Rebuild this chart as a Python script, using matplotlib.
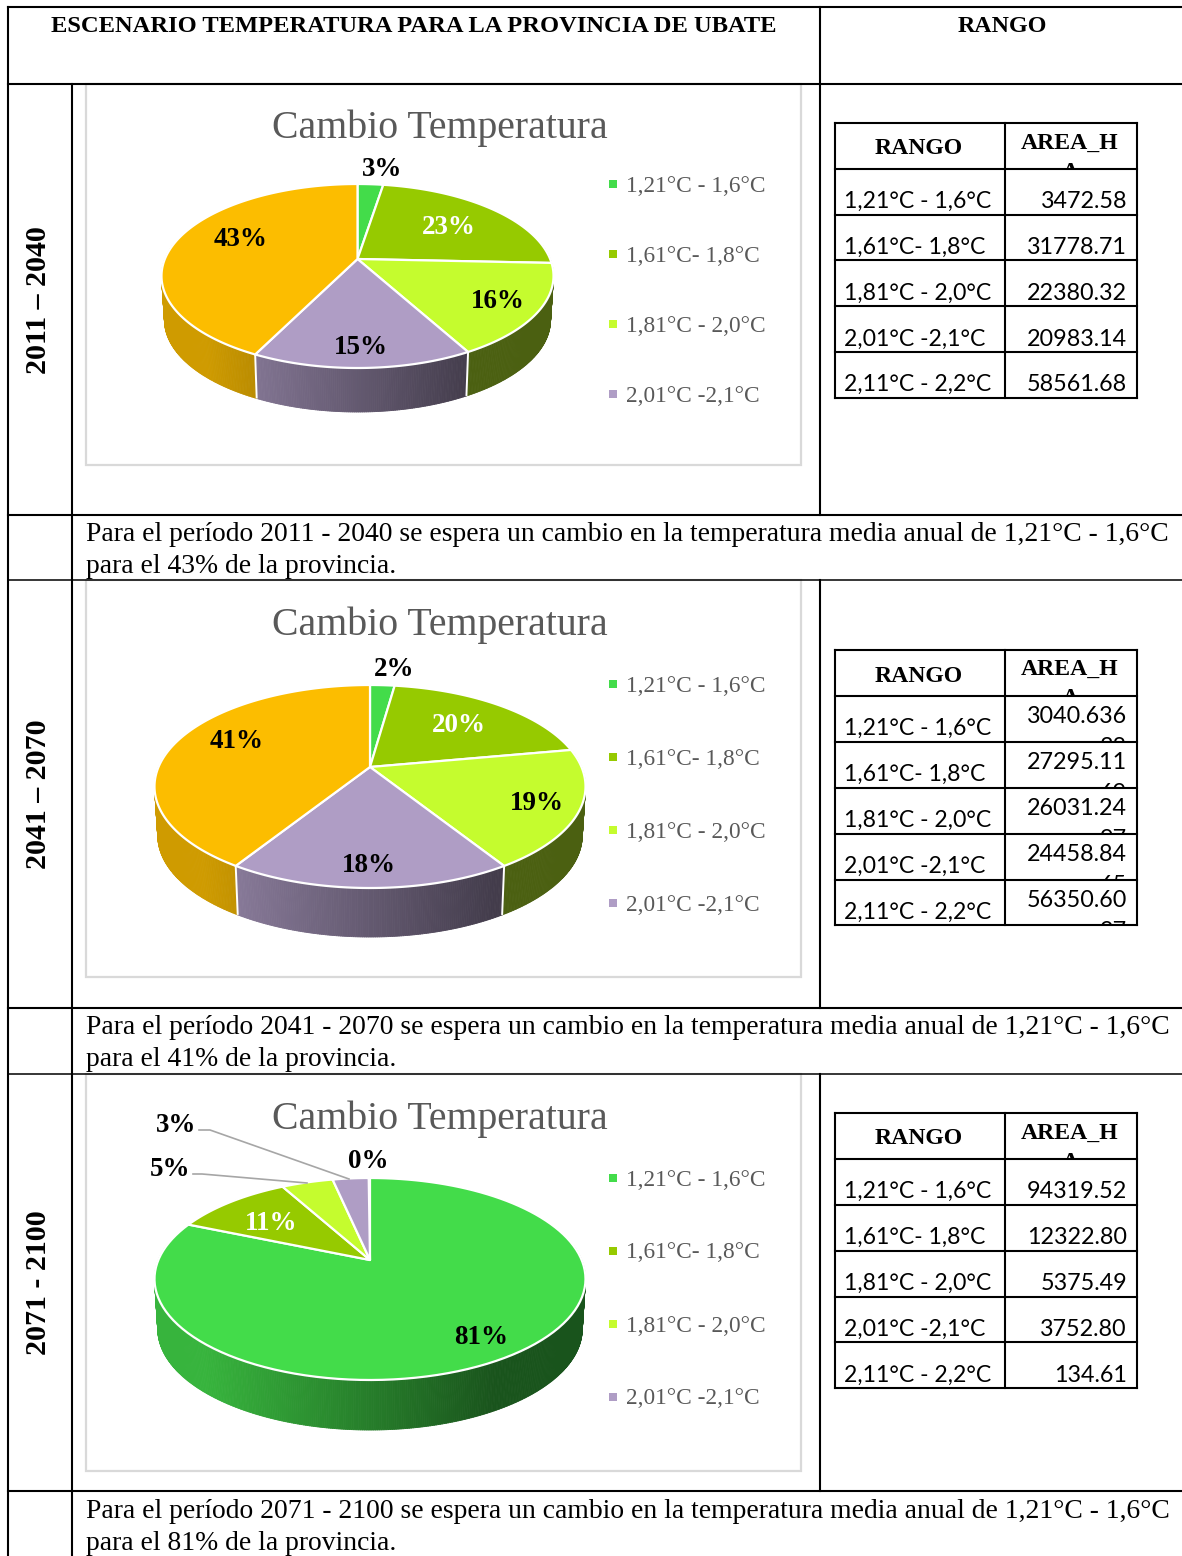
#!/usr/bin/env python3
"""Temperature change scenarios for the Ubate province: table layout with three 3D pies."""

import numpy as np
import matplotlib
matplotlib.use("Agg")
import matplotlib.pyplot as plt
from matplotlib.collections import PolyCollection
from matplotlib.patches import Polygon, Rectangle

RANGOS = ["1,21°C - 1,6°C", "1,61°C- 1,8°C", "1,81°C - 2,0°C", "2,01°C -2,1°C", "2,11°C - 2,2°C"]
AREA_2011 = ["3472.58", "31778.71", "22380.32", "20983.14", "58561.68"]
AREA_2041 = ["3040.636", "27295.11", "26031.24", "24458.84", "56350.60"]
AREA_2071 = ["94319.52", "12322.80", "5375.49", "3752.80", "134.61"]
AREA_2041_CUT = ["38", "69", "97", "65", "97"]
PERIODOS = ["2011 – 2040", "2041 – 2070", "2071 - 2100"]
PERIODOS_TXT = ["2011 - 2040", "2041 - 2070", "2071 - 2100"]
DOMINANTE = [43, 41, 81]
COLORS = ["#43DC4A", "#96CA00", "#C5FC2E", "#AF9DC5", "#FCBD00"]

SERIF = "Liberation Serif"
SANS = "Lato"
GREY = "#595959"

# layout in pixels: cx, half width, top, vertex, front, wall depth
PIES = [(357.5, 196, 184, 259, 368, 44), (370, 215.5, 685, 767, 888, 49), (370, 215.5, 1178, 1260, 1380, 50)]
FRAMES = [(86, 84, 801, 465), (86, 580, 801, 977), (86, 1074, 801, 1471)]
TITLE_Y = [126, 623, 1117]
LEGEND_Y = [[184, 254, 324, 394], [684, 757, 830, 903], [1178, 1251, 1324, 1397]]
LABEL_XY = [
    [(382, 167), (449, 225), (498, 299), (361, 345), (241, 237)],
    [(394, 667), (459, 723), (537, 801), (369, 863), (237, 739)],
    [(481, 1335), (271, 1221), (170, 1167), (176, 1123), (368, 1159)],
]
LABEL_COLOR = ["black", "white", "black", "black", "black"]
TABLE_Y = [
    [123, 169, 215, 260, 306, 352, 398],
    [650, 696, 742, 788, 834, 880, 925],
    [1113, 1159, 1205, 1251, 1297, 1342, 1388],
]
ROW_LABEL_Y = [[199, 245, 291, 337, 382], [726, 772, 818, 864, 910], [1189, 1235, 1281, 1327, 1373]]
ROW_VALUE_Y = [[199, 245, 291, 337, 382], [714, 760, 806, 852, 898], [1189, 1235, 1281, 1327, 1373]]
HEAD_Y = [(146, 141), (674, 667), (1136, 1131)]
PERIOD_Y = [300, 794, 1283]
TEXT_Y = [(532, 564), (1026, 1058), (1510, 1542)]
LEADERS = [[(193, 1174), (202, 1174), (307, 1183)], [(199, 1130), (210, 1130), (349, 1179)]]


def px(size):
  return size * 0.72


def put(ax, x, y, text, size, **kwargs):
  kwargs.setdefault("ha", "center")
  kwargs.setdefault("family", SERIF)
  # va center sits about 2 px above the glyph middle for these fonts
  return ax.text(x, y + 2, text, va="center", fontsize=px(size), **kwargs)


def projector(cx, half_w, top, vertex, front):
  ratio = (front - vertex) / (vertex - top)
  k = (ratio - 1) / (ratio + 1)
  b = (vertex - top) * (1 + k)
  a = half_w * np.sqrt(1 - k * k)

  def rim(phi, scale=1.0, drop=0.0):
    u, v = np.sin(phi), -np.cos(phi)
    d = 1 - k * v
    return cx + scale * a * u / d, vertex + drop + b * v / d

  return rim


def shade(color, n):
  rgb = np.array(matplotlib.colors.to_rgb(color))
  return tuple(rgb * np.clip(0.57 - 0.324 * n, 0.38, 0.82))


def draw_pie(ax, values, geo):
  cx, half_w, top, vertex, front, depth = geo
  rim = projector(cx, half_w, top, vertex, front)
  edges = np.concatenate([[0], np.cumsum(values)]) / np.sum(values) * 2 * np.pi

  # side wall first, the top surface then hides what lies behind it
  for i, color in enumerate(COLORS):
    start, end = max(edges[i], np.pi * 0.45), min(edges[i + 1], np.pi * 1.55)
    if end <= start:
      continue
    phi = np.linspace(start, end, max(int((end - start) * 120), 2))
    x0, y0 = rim(phi)
    x1, y1 = rim(phi, 0.985, depth)
    quads = [
        [(x0[j], y0[j]), (x0[j + 1], y0[j + 1]), (x1[j + 1], y1[j + 1]), (x1[j], y1[j])]
        for j in range(len(phi) - 1)
    ]
    tone = [shade(color, (x0[j] - cx) / half_w) for j in range(len(phi) - 1)]
    ax.add_collection(PolyCollection(quads, facecolors=tone, edgecolors=tone, linewidths=0.6))

  for edge in edges[1:-1]:
    if np.pi * 0.55 < edge < np.pi * 1.45:
      x0, y0 = rim(edge)
      x1, y1 = rim(edge, 0.985, depth)
      ax.plot([x0, x1], [y0, y1], color="white", lw=1.4, solid_capstyle="butt")

  for i, color in enumerate(COLORS):
    if values[i] / np.sum(values) < 0.005:
      continue
    phi = np.linspace(edges[i], edges[i + 1], 120)
    x, y = rim(phi)
    points = np.column_stack([np.r_[cx, x], np.r_[vertex, y]])
    ax.add_patch(Polygon(points, closed=True, facecolor=color, edgecolor="white", lw=1.6, joinstyle="round"))


def clipped(artist, ax, x0, y0, x1, y1):
  artist.set_clip_path(Rectangle((x0, y0), x1 - x0, y1 - y0, transform=ax.transData))
  artist.set_clip_on(True)


def draw_table(ax, rows, head_y):
  left, mid, right = 835, 1004.5, 1137
  for y in rows:
    ax.plot([left, right], [y, y], color="black", lw=1.5, solid_capstyle="projecting", zorder=4)
  for x in (left, mid, right):
    ax.plot([x, x], [rows[0], rows[-1]], color="black", lw=1.5, zorder=4)
  put(ax, 919, head_y[0], "RANGO", 23.8, weight="bold")
  put(ax, 1070, head_y[1], "AREA_H", 23.8, weight="bold")
  stub = put(ax, 1070, head_y[1] + 29, "A", 23.8, weight="bold")
  clipped(stub, ax, mid, rows[0], right, rows[1])
  return mid, right


def main():
  fig = plt.figure(figsize=(11.82, 15.56), dpi=100)
  ax = fig.add_axes([0, 0, 1, 1])
  ax.set_xlim(0, 1182)
  ax.set_ylim(1556, 0)
  ax.axis("off")

  # outer grid
  for y, lw in [(7, 1.5), (84, 1.5), (515, 1.5), (580, 1.1), (1008, 1.5), (1074, 1.1), (1491, 1.5)]:
    ax.plot([8, 1182], [y, y], color="black", lw=lw, zorder=5)
  ax.plot([8, 8], [7, 1556], color="black", lw=1.5, zorder=5)
  ax.plot([72, 72], [84, 1556], color="black", lw=1.5, zorder=5)
  for y0, y1 in [(7, 515), (580, 1008), (1074, 1491)]:
    ax.plot([820, 820], [y0, y1], color="black", lw=1.5, zorder=5)

  put(ax, 413.5, 24, "ESCENARIO TEMPERATURA PARA LA PROVINCIA DE UBATE", 24.5, weight="bold")
  put(ax, 1002, 24, "RANGO", 24, weight="bold")

  areas = [AREA_2011, AREA_2041, AREA_2071]
  for n, area in enumerate(areas):
    values = [float(a) for a in area]
    x0, y0, x1, y1 = FRAMES[n]
    ax.add_patch(Rectangle((x0, y0), x1 - x0, y1 - y0, facecolor="white", edgecolor="#D9D9D9", lw=1.6))
    put(ax, 439.5, TITLE_Y[n], "Cambio Temperatura", 39.8, color=GREY)
    draw_pie(ax, values, PIES[n])

    total = sum(values)
    for value, xy, color in zip(values, LABEL_XY[n], LABEL_COLOR):
      put(ax, *xy, f"{value / total * 100:.0f}%", 27, weight="bold", color=color)
    for y, name, color in zip(LEGEND_Y[n], RANGOS, COLORS):
      ax.plot(613, y, marker="s", ms=6, color=color, mew=0)
      put(ax, 626, y, name, 23.4, ha="left", color=GREY)

    rows = TABLE_Y[n]
    mid, right = draw_table(ax, rows, HEAD_Y[n])
    for i, (name, text) in enumerate(zip(RANGOS, area)):
      put(ax, 844, ROW_LABEL_Y[n][i], name, 23, ha="left", family=SANS)
      put(ax, 1127, ROW_VALUE_Y[n][i], text, 23.4, ha="right", family=SANS)
      if n == 1:
        cut = put(ax, 1127, ROW_VALUE_Y[n][i] + 31, AREA_2041_CUT[i], 23.4, ha="right", family=SANS)
        clipped(cut, ax, mid, rows[i + 1], right, rows[i + 2])

    ax.text(38.5, PERIOD_Y[n], PERIODOS[n], rotation=90, ha="center", va="center", family=SERIF,
            weight="bold", fontsize=px(30))
    line1, line2 = TEXT_Y[n]
    put(ax, 86, line1, f"Para el período {PERIODOS_TXT[n]} se espera un cambio en la temperatura media anual de "
        f"{RANGOS[0]}", 27.65, ha="left", zorder=6)
    put(ax, 86, line2, f"para el {DOMINANTE[n]}% de la provincia.", 27.65, ha="left", zorder=6)

  for leader in LEADERS:
    xs, ys = zip(*leader)
    ax.plot(xs, ys, color="#A6A6A6", lw=1.2)

  fig.savefig("out.png", dpi=100)


if __name__ == "__main__":
  main()
